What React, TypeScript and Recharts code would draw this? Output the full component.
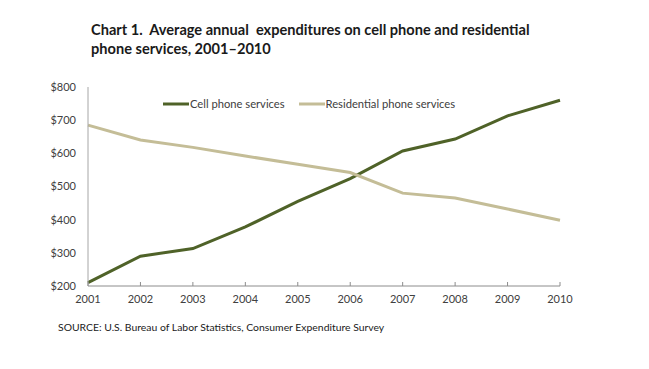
import React from 'react';
import { LineChart, Line, XAxis, YAxis } from 'recharts';

const years = ['2001', '2002', '2003', '2004', '2005', '2006', '2007', '2008', '2009', '2010'];
const cellPhone = [210, 290, 313, 378, 455, 524, 607, 643, 713, 760];
const residential = [685, 640, 618, 592, 567, 542, 480, 465, 432, 398];
const yTicks = [200, 300, 400, 500, 600, 700, 800];

const CELL_COLOR = '#4f6228';
const RES_COLOR = '#c4bd97';
const FONT = 'Lato, "Open Sans", sans-serif';

const data = years.map((year, i) => ({
  year,
  cell: cellPhone[i],
  res: residential[i],
}));

// ticks point up into the plot, like the Excel original
const XTick = (props: any) => {
  const { x, y, payload } = props;
  const axisY = y - 12;
  return (
    <g>
      <line x1={x} x2={x} y1={axisY} y2={axisY - 4} stroke="#8c8c8c" />
      <text x={x} y={y} dy={5} textAnchor="middle" fontSize={11} fill="#404040" fontFamily={FONT}>
        {payload.value}
      </text>
    </g>
  );
};

const legendItems = [
  { label: 'Cell phone services', color: CELL_COLOR },
  { label: 'Residential phone services', color: RES_COLOR },
];

export default function App() {
  return (
    <div style={{ position: 'absolute', left: 0, top: 0, width: 649, height: 369, background: '#fff' }}>
      <div
        style={{
          position: 'absolute',
          left: 91,
          top: 20,
          fontFamily: FONT,
          fontWeight: 700,
          fontSize: 14.6,
          lineHeight: '19px',
          color: '#1a1a1a',
          whiteSpace: 'pre',
        }}
      >
        {'Chart 1.  Average annual  expenditures on cell phone and residential\nphone services, 2001\u20132010'}
      </div>
      <LineChart width={649} height={369} data={data} margin={{ top: 87, right: 89, bottom: 53, left: 38 }}>
        <XAxis
          dataKey="year"
          xAxisId="bottom"
          axisLine={{ stroke: '#8c8c8c' }}
          tickLine={false}
          tickSize={6}
          tickMargin={6}
          height={30}
          tick={<XTick />}
          interval={0}
        />
        <XAxis dataKey="year" xAxisId="top" orientation="top" height={0} tick={false} tickLine={false} axisLine={{ stroke: '#a6a6a6' }} />
        <YAxis
          yAxisId="left"
          domain={[200, 800]}
          ticks={yTicks}
          width={50}
          axisLine={{ stroke: '#a6a6a6' }}
          tickLine={false}
          tickMargin={6}
          tick={{ fontSize: 11, fill: '#404040', fontFamily: FONT }}
          tickFormatter={(v: number) => `$${v}`}
          interval={0}
        />
        <YAxis yAxisId="right" orientation="right" domain={[200, 800]} width={0} tick={false} tickLine={false} axisLine={{ stroke: '#a6a6a6' }} />
        <Line
          xAxisId="bottom"
          yAxisId="left"
          type="linear"
          dataKey="cell"
          stroke={CELL_COLOR}
          strokeWidth={3}
          dot={false}
          isAnimationActive={false}
        />
        <Line
          xAxisId="bottom"
          yAxisId="left"
          type="linear"
          dataKey="res"
          stroke={RES_COLOR}
          strokeWidth={3}
          dot={false}
          isAnimationActive={false}
        />
      </LineChart>
      <div
        style={{
          position: 'absolute',
          top: 97,
          left: 163,
          display: 'flex',
          fontFamily: FONT,
          fontSize: 11.2,
          color: '#404040',
        }}
      >
        {legendItems.map((item) => (
          <div key={item.label} style={{ display: 'flex', alignItems: 'center', marginRight: 14 }}>
            <svg width={26} height={8}>
              <line x1={0} x2={26} y1={4} y2={4} stroke={item.color} strokeWidth={3} />
            </svg>
            <span style={{ marginLeft: 1 }}>{item.label}</span>
          </div>
        ))}
      </div>
      <div style={{ position: 'absolute', left: 58, top: 321, fontFamily: FONT, fontSize: 10.4, color: '#1a1a1a' }}>
        SOURCE: U.S. Bureau of Labor Statistics,  Consumer Expenditure Survey
      </div>
    </div>
  );
}
